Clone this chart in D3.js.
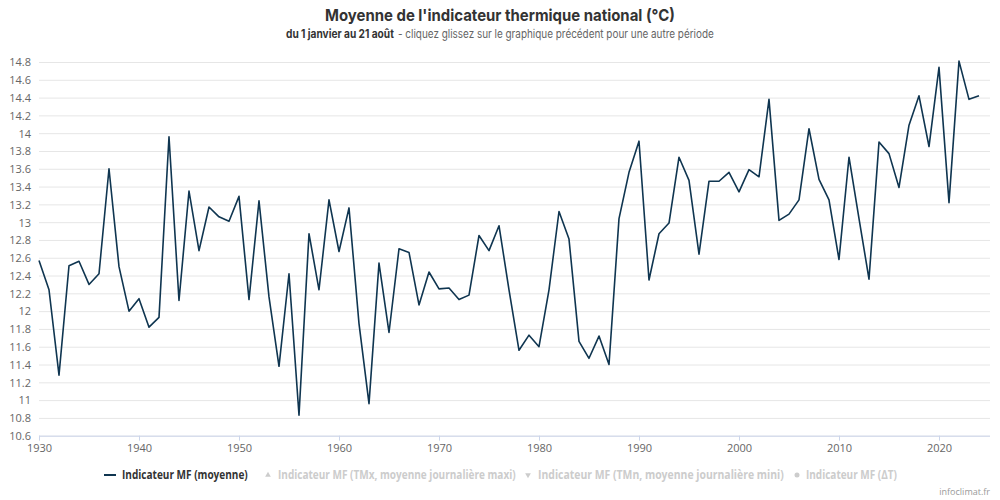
<!DOCTYPE html>
<html><head><meta charset="utf-8">
<script src="https://cdn.jsdelivr.net/npm/d3@7"></script>
<style>
html,body{margin:0;padding:0;background:#fff;}
svg{display:block;}
</style></head>
<body>
<svg id="c" width="1000" height="500"></svg>
<script>
const years = d3.range(1930, 2025);
const values = [
 12.57,12.24,11.28,12.51,12.56,12.30,12.42,13.60,12.50,12.00,
 12.14,11.82,11.93,13.96,12.12,13.35,12.68,13.17,13.06,13.01,
 13.29,12.13,13.24,12.16,11.38,12.42,10.83,12.87,12.24,13.25,
 12.67,13.16,11.86,10.96,12.54,11.76,12.70,12.66,12.07,12.44,
 12.25,12.26,12.13,12.18,12.85,12.68,12.96,12.24,11.56,11.73,
 11.60,12.24,13.12,12.81,11.66,11.47,11.72,11.40,13.04,13.56,
 13.91,12.35,12.87,12.99,13.73,13.47,12.64,13.46,13.46,13.56,
 13.34,13.59,13.51,14.38,13.02,13.09,13.25,14.05,13.48,13.25,
 12.58,13.73,13.04,12.36,13.90,13.77,13.39,14.09,14.42,13.85,
 14.74,13.22,14.81,14.38,14.42
];
const yTicks = d3.range(10.6, 14.81, 0.2).map(v => +v.toFixed(1));
const xTicks = [1930,1940,1950,1960,1970,1980,1990,2000,2010,2020];
const legendItems = [
 {name:"Indicateur MF (moyenne)", sym:"line", active:true},
 {name:"Indicateur MF (TMx, moyenne journalière maxi)", sym:"up", active:false},
 {name:"Indicateur MF (TMn, moyenne journalière mini)", sym:"down", active:false},
 {name:"Indicateur MF (ΔT)", sym:"circle", active:false}
];
const titleText = "Moyenne de l'indicateur thermique national (°C)";
const subBold = "du 1 janvier au 21 août";
const subRest = "- cliquez glissez sur le graphique précédent pour une autre période";

const svg = d3.select("#c");
const L = 39, R = 990, T = 62, B = 435.7;
const x = d3.scaleLinear().domain([1930, 2025.1]).range([L, R]);
const y = d3.scaleLinear().domain([10.6, 14.8]).range([B, T]);
const FONT = "'Open Sans', sans-serif";

// place a text so that it spans [x0, x0+w], squeezing it horizontally
function fit(sel, x0, yb, w) {
 const n = sel.node().getComputedTextLength();
 const s = Math.min(1, w / n);
 sel.attr("x", 0).attr("y", 0).attr("transform", `translate(${x0},${yb}) scale(${s},1)`);
}

// title
const title = svg.append("text").attr("font-family", "Inter, sans-serif").attr("font-weight", 700)
 .attr("font-size", 16.5).attr("fill", "#333333").text(titleText);
fit(title, 325, 21, 350);

const sb = svg.append("text").attr("font-family", "Inter, sans-serif").attr("font-weight", 700)
 .attr("font-size", 11.5).attr("fill", "#333333").text(subBold);
fit(sb, 286, 38, 108);
const sr = svg.append("text").attr("font-family", "Inter, sans-serif")
 .attr("font-size", 11.5).attr("fill", "#666666").text(subRest);
fit(sr, 398, 38, 316);

// grid
const yAxis = d3.axisLeft(y).tickValues(yTicks).tickSize(-(R - L)).tickPadding(8)
 .tickFormat(d => d3.format("~g")(d));
const gy = svg.append("g").attr("transform", `translate(${L},0)`).call(yAxis);
gy.select(".domain").remove();
gy.selectAll(".tick line").attr("stroke", "#e6e6e6").attr("stroke-width", 1);
gy.selectAll(".tick text").attr("fill", "#666666").attr("font-size", 11)
 .attr("font-family", FONT).attr("x", -8).attr("dy", "0.35em");

// x axis
const xAxis = d3.axisBottom(x).tickValues(xTicks).tickSize(5).tickPadding(4).tickFormat(d3.format("d"));
const gx = svg.append("g").attr("transform", `translate(0,${B})`).call(xAxis);
gx.select(".domain").attr("stroke", "#ccd6eb").attr("d", `M${L},0.5H${R}`);
gx.selectAll(".tick line").attr("stroke", "#ccd6eb");
gx.selectAll(".tick text").attr("fill", "#666666").attr("font-size", 11).attr("font-family", FONT);

// line
const line = d3.line().x((d, i) => x(years[i])).y(d => y(d));
svg.append("path").datum(values).attr("d", line).attr("fill", "none")
 .attr("stroke", "#0f3550").attr("stroke-width", 1.6).attr("stroke-linejoin","round");

// legend
const legendPos = [
 {sx:110, tx:122, w:126},
 {sx:268, tx:278, w:238},
 {sx:528, tx:538, w:246},
 {sx:797, tx:806, w:91}
];
const lg = svg.append("g");
legendItems.forEach((it, i) => {
 const p = legendPos[i];
 const col = it.active ? "#0f3550" : "#cccccc";
 const ly = 475;
 if (it.sym === "line") {
  lg.append("line").attr("x1", p.sx - 6).attr("x2", p.sx + 6).attr("y1", ly).attr("y2", ly)
   .attr("stroke", col).attr("stroke-width", 2);
 } else if (it.sym === "up") {
  lg.append("path").attr("d", d3.symbol(d3.symbolTriangle, 14)()).attr("transform", `translate(${p.sx},${ly})`).attr("fill", col);
 } else if (it.sym === "down") {
  lg.append("path").attr("d", d3.symbol(d3.symbolTriangle, 14)()).attr("transform", `translate(${p.sx},${ly}) rotate(180)`).attr("fill", col);
 } else {
  lg.append("circle").attr("cx", p.sx).attr("cy", ly).attr("r", 2.5).attr("fill", col);
 }
 const t = lg.append("text").attr("font-family", FONT)
  .attr("font-size", 12).attr("font-weight", 700).attr("fill", it.active ? "#333333" : "#cccccc")
  .text(it.name);
 fit(t, p.tx, ly + 4, p.w);
});

svg.append("text").attr("x", 990).attr("y", 495).attr("text-anchor", "end")
 .attr("font-family", FONT).attr("font-size", 9).attr("fill", "#999999").text("infoclimat.fr");
</script>
</body></html>
